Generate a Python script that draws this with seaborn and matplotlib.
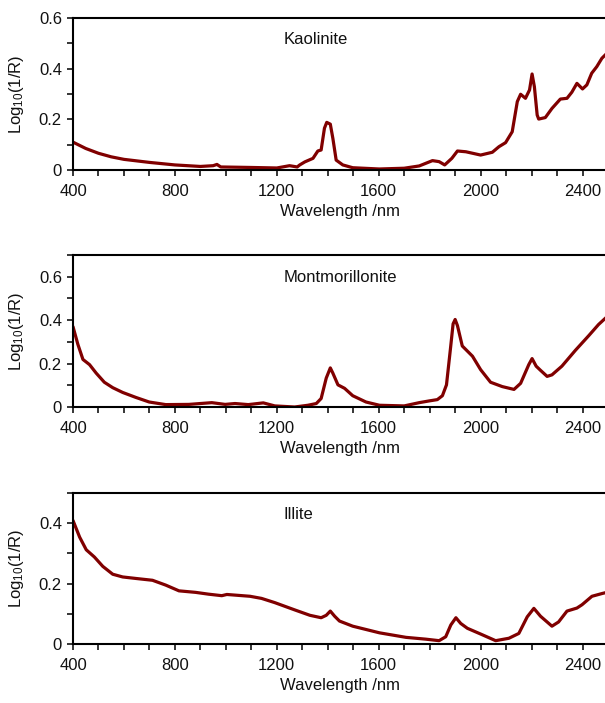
import numpy as np
import pandas as pd
import matplotlib
matplotlib.use("Agg")
import matplotlib.pyplot as plt
from matplotlib.ticker import MultipleLocator, FuncFormatter
import seaborn as sns

# ---------------- data ----------------
kaol_wl = [400, 450, 500, 550, 600, 700, 800, 900, 950, 965, 980, 1100, 1200, 1250, 1280,
           1290, 1310, 1342, 1361, 1374, 1387, 1396, 1410, 1420, 1433, 1459, 1498, 1602,
           1700, 1759, 1811, 1837, 1859, 1887, 1909, 1942, 2000, 2046, 2072, 2098, 2124,
           2144, 2157, 2176, 2192, 2202, 2211, 2222, 2228, 2254, 2280, 2313, 2339, 2358,
           2378, 2400, 2417, 2436, 2456, 2476, 2500]
kaol_val = [0.110, 0.085, 0.066, 0.052, 0.042, 0.030, 0.020, 0.014, 0.017, 0.022, 0.012,
            0.010, 0.008, 0.017, 0.012, 0.020, 0.032, 0.046, 0.075, 0.079, 0.165, 0.188,
            0.181, 0.125, 0.039, 0.020, 0.009, 0.004, 0.007, 0.016, 0.037, 0.033, 0.020,
            0.046, 0.075, 0.072, 0.059, 0.070, 0.092, 0.108, 0.151, 0.270, 0.299, 0.283,
            0.316, 0.379, 0.329, 0.217, 0.201, 0.207, 0.243, 0.280, 0.283, 0.307, 0.342,
            0.320, 0.336, 0.382, 0.408, 0.441, 0.465]

mont_wl = [400, 419, 439, 465, 491, 523, 556, 595, 647, 699, 764, 855, 945, 997, 1036,
           1088, 1147, 1192, 1270, 1322, 1355, 1374, 1394, 1410, 1420, 1440, 1466, 1498,
           1550, 1603, 1700, 1759, 1798, 1830, 1850, 1866, 1882, 1892, 1900, 1909, 1928,
           1968, 2000, 2039, 2085, 2131, 2157, 2189, 2202, 2218, 2235, 2261, 2280, 2319,
           2372, 2424, 2463, 2500]
mont_val = [0.370, 0.289, 0.219, 0.195, 0.156, 0.114, 0.089, 0.067, 0.044, 0.023, 0.011,
            0.012, 0.020, 0.012, 0.016, 0.011, 0.019, 0.005, 0.000, 0.008, 0.016, 0.039,
            0.133, 0.180, 0.156, 0.102, 0.086, 0.052, 0.023, 0.008, 0.005, 0.020, 0.028,
            0.034, 0.052, 0.102, 0.273, 0.383, 0.403, 0.375, 0.281, 0.234, 0.172, 0.114,
            0.094, 0.081, 0.109, 0.195, 0.223, 0.188, 0.169, 0.141, 0.148, 0.188, 0.261,
            0.328, 0.380, 0.420]

illi_wl = [400, 426, 452, 484, 517, 556, 595, 647, 712, 764, 816, 881, 932, 984, 1004,
           1095, 1140, 1192, 1270, 1300, 1330, 1374, 1394, 1410, 1427, 1446, 1498, 1603,
           1707, 1785, 1837, 1863, 1883, 1903, 1922, 1948, 2000, 2059, 2111, 2150, 2183,
           2209, 2235, 2280, 2306, 2339, 2378, 2398, 2437, 2476, 2500]
illi_val = [0.409, 0.354, 0.312, 0.288, 0.257, 0.231, 0.222, 0.217, 0.211, 0.195, 0.176,
            0.171, 0.165, 0.160, 0.164, 0.158, 0.151, 0.137, 0.113, 0.104, 0.095, 0.087,
            0.095, 0.109, 0.092, 0.076, 0.059, 0.037, 0.022, 0.016, 0.011, 0.024, 0.063,
            0.087, 0.068, 0.052, 0.033, 0.011, 0.019, 0.035, 0.090, 0.118, 0.092, 0.059,
            0.073, 0.109, 0.119, 0.130, 0.158, 0.167, 0.172]

names = ["Kaolinite", "Montmorillonite", "Illite"]
ylims = [0.6, 0.7, 0.5]

# ---------------- style ----------------
sns.set_style("ticks")
plt.rcParams["font.family"] = ["Liberation Sans", "DejaVu Sans"]
plt.rcParams["mathtext.fontset"] = "custom"
plt.rcParams["mathtext.rm"] = "Liberation Sans"
plt.rcParams["mathtext.default"] = "regular"

W, H = 605, 703
fig = plt.figure(figsize=(W / 100, H / 100), dpi=100)

line_color = "#800000"
boxes = [(18, 170), (255, 407), (493, 644)]
left_px, right_px = 73, 608

frames = [
    pd.DataFrame({"wl": kaol_wl, "val": kaol_val}),
    pd.DataFrame({"wl": mont_wl, "val": mont_val}),
    pd.DataFrame({"wl": illi_wl, "val": illi_val}),
]

fs = 12
for i, (df, name, ymax) in enumerate(zip(frames, names, ylims)):
    top, bot = boxes[i]
    ax = fig.add_axes([left_px / W, 1 - bot / H, (right_px - left_px) / W, (bot - top) / H])
    sns.lineplot(data=df, x="wl", y="val", ax=ax, color=line_color, linewidth=2.3)
    ax.set_xlim(400, 2500)
    ax.set_ylim(0, ymax)
    ax.xaxis.set_major_locator(MultipleLocator(400))
    ax.xaxis.set_minor_locator(MultipleLocator(100))
    ax.yaxis.set_major_locator(MultipleLocator(0.2))
    ax.yaxis.set_minor_locator(MultipleLocator(0.1))
    ax.yaxis.set_major_formatter(FuncFormatter(lambda v, p: "0" if abs(v) < 1e-9 else f"{v:.1f}"))
    ax.tick_params(which="both", direction="out", length=4, width=1.1, color="black",
                   labelsize=fs, labelcolor="#111111")
    ax.tick_params(axis="x", which="major", pad=6)
    ax.tick_params(axis="y", which="major", pad=4)
    for s in ["left", "bottom", "top"]:
        ax.spines[s].set_linewidth(1.5)
        ax.spines[s].set_color("black")
    ax.spines["right"].set_visible(False)
    ax.set_xlabel("Wavelength /nm", fontsize=fs, color="#111111")
    ax.set_ylabel(r"Log$_{\mathregular{10}}$(1/R)", fontsize=fs, color="#111111")
    ax.xaxis.set_label_coords(0.5, -0.225)
    ax.yaxis.set_label_coords(-0.088, 0.5)
    ax.text(1225, ymax * (1 - (22 / 152)), name, fontsize=fs, ha="left", va="center",
            color="#111111")

fig.savefig("out.png", dpi=100)
